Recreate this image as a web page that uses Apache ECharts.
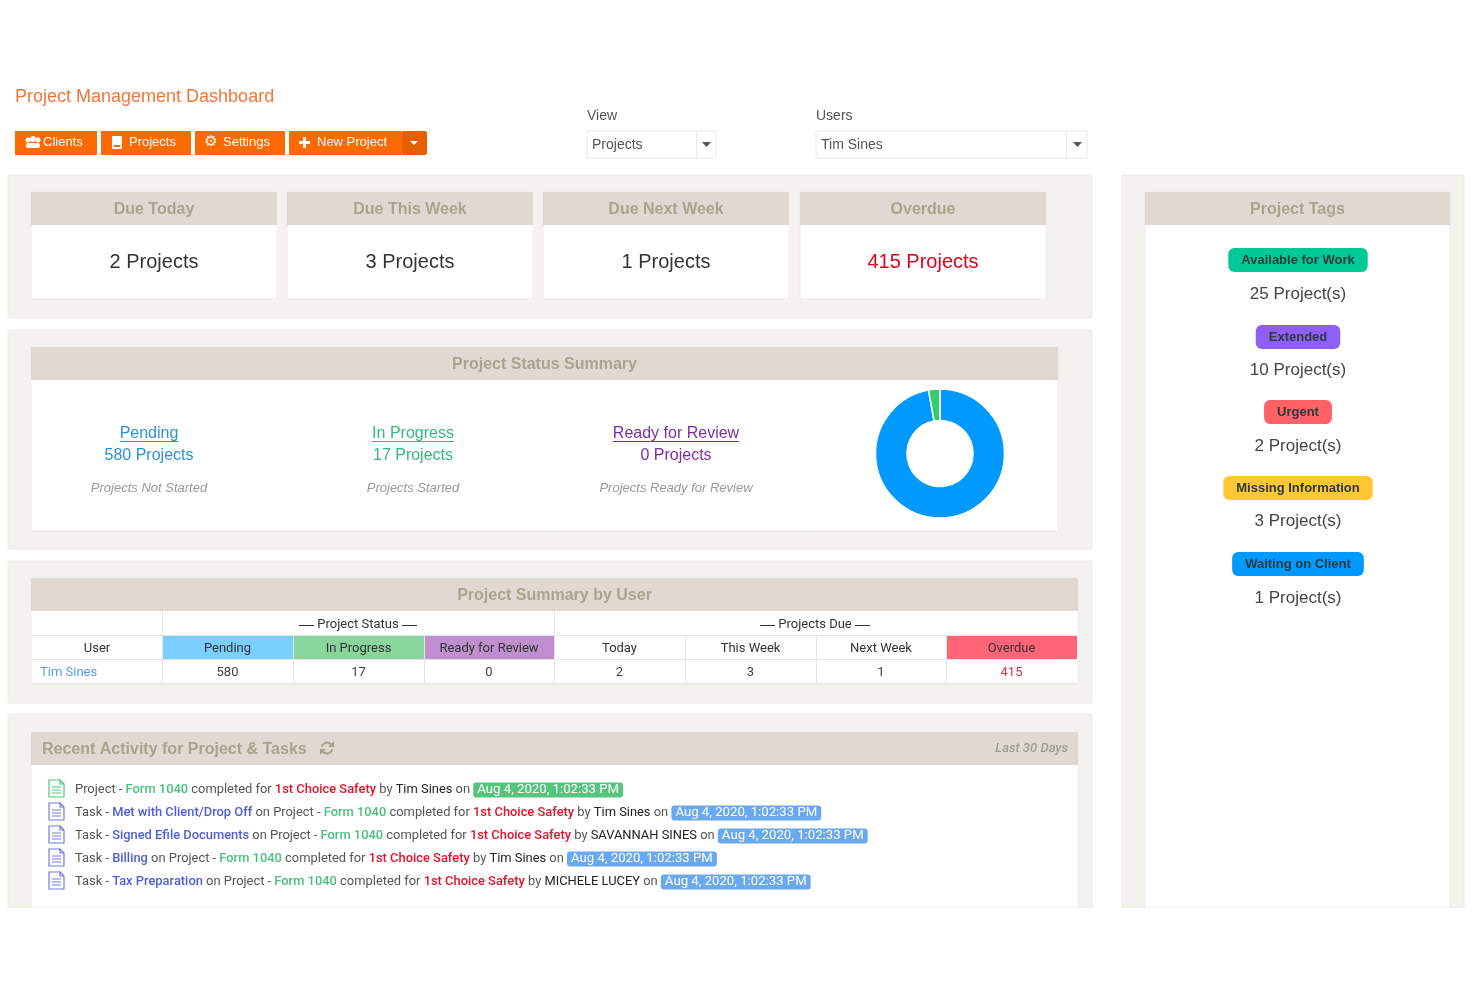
<!DOCTYPE html>
<html>
<head>
<meta charset="utf-8">
<title>Project Management Dashboard</title>
<style>
    html, body { margin: 0; padding: 0; background: #fff; }
    #main { width: 1480px; height: 987px; }
</style>
</head>
<body>
<div id="main"></div>
<script src="https://cdn.jsdelivr.net/npm/echarts@6/dist/echarts.min.js"></script>
<script>
var dueTitles = ["Due Today", "Due This Week", "Due Next Week", "Overdue"];
var dueCounts = [2, 3, 1, 415];

var statusNames = ["Pending", "In Progress", "Ready for Review"];
var statusCounts = [580, 17, 0];
var statusCaptions = ["Projects Not Started", "Projects Started", "Projects Ready for Review"];
var statusLinkColors = ["#2a93d5", "#35b87f", "#7d2ea6"];
var statusSliceColors = ["#0099ff", "#33cc66", "#9933cc"];

var tagNames = ["Available for Work", "Extended", "Urgent", "Missing Information", "Waiting on Client"];
var tagCounts = [25, 10, 2, 3, 1];
var tagColors = ["#00c896", "#8f5ff5", "#ff6166", "#ffc832", "#0099ff"];

var tableUsers = ["Tim Sines"];
var tableHeads = ["User", "Pending", "In Progress", "Ready for Review", "Today", "This Week", "Next Week", "Overdue"];
var tableHeadColors = ["#fff", "#7acfff", "#88d69b", "#c08fcf", "#fff", "#fff", "#fff", "#ff6478"];
var tableValues = [580, 17, 0, 2, 3, 1, 415];

var activityKinds = ["Project", "Task", "Task", "Task", "Task"];
var activityTasks = ["", "Met with Client/Drop Off", "Signed Efile Documents", "Billing", "Tax Preparation"];
var activityProject = "Form 1040";
var activityClient = "1st Choice Safety";
var activityUsers = ["Tim Sines", "Tim Sines", "SAVANNAH SINES", "Tim Sines", "MICHELE LUCEY"];
var activityDate = "Aug 4, 2020, 1:02:33 PM";

var ORANGE = "#ff6a00";
var HEAD_BG = "#dfd9d1";
var HEAD_TEXT = "#a9a48f";
var PANEL_BG = "#f4f2ef";
var PANEL_LINE = "#eeece9";
var ARIAL = '"Liberation Sans", Arial, sans-serif';
var ROBOTO = 'Roboto, sans-serif';

var chart = echarts.init(document.getElementById("main"));
var els = [];

// 画矩形
function box(x, y, w, h, fill, r, stroke) {
    els.push({
        type: "rect",
        shape: {x: x, y: y, width: w, height: h, r: r || 0},
        style: {fill: fill, stroke: stroke || null, lineWidth: stroke ? 1 : 0},
        silent: true
    });
}

// 写文字
function label(str, x, y, size, color, opts) {
    opts = opts || {};
    var style = {
        text: str,
        x: x,
        y: y + 1,
        fill: color,
        align: opts.align || "center",
        verticalAlign: "middle",
        fontFamily: opts.family || ARIAL,
        fontSize: size,
        fontWeight: opts.weight || "normal",
        fontStyle: opts.italic ? "italic" : "normal"
    };
    if (opts.rich) {
        style.rich = opts.rich;
    }
    if (opts.bg) {
        style.backgroundColor = opts.bg;
        style.padding = opts.padding;
        style.borderRadius = opts.radius;
    }
    els.push({type: "text", style: style, silent: true});
}

function poly(points, fill) {
    els.push({type: "polygon", shape: {points: points}, style: {fill: fill}, silent: true});
}

function textWidth(str, font) {
    var ctx = textWidth.ctx || (textWidth.ctx = document.createElement("canvas").getContext("2d"));
    ctx.font = font;
    return ctx.measureText(str).width;
}

// 带标题的白色卡片
function card(x, y, w, h, title, titleAlign) {
    box(x, y, w, h, "#fff", 0, PANEL_LINE);
    box(x, y, w, 33, HEAD_BG);
    if (title) {
        label(title, titleAlign === "left" ? x + 11 : x + w / 2, y + 17, 16, HEAD_TEXT, {
            weight: "bold",
            align: titleAlign || "center"
        });
    }
}

function docIcon(x, y, color) {
    els.push({
        type: "polyline",
        shape: {points: [[x + 11, y], [x, y], [x, y + 17], [x + 15, y + 17], [x + 15, y + 4], [x + 11, y], [x + 11, y + 4], [x + 15, y + 4]]},
        style: {fill: null, stroke: color, lineWidth: 1.2},
        silent: true
    });
    [7, 10, 13].forEach(function (d) {
        box(x + 3, y + d - 0.5, 9, 1, color);
    });
}

//顶部标题和按钮
function drawToolbar() {
    label("Project Management Dashboard", 15, 96, 18, "#f0763c", {align: "left"});

    [[15, 82, "Clients", 43], [101, 90, "Projects", 129], [195, 90, "Settings", 223], [289, 113, "New Project", 317]].forEach(function (b) {
        box(b[0], 131, b[1], 24, ORANGE);
        label(b[2], b[3], 141.5, 13, "#fff", {align: "left"});
    });
    box(402, 131, 25, 24, "#e55f00", 2);
    poly([[410, 141], [418, 141], [414, 145]], "#fff");

    // 按钮图标
    els.push({type: "circle", shape: {cx: 28, cy: 140, r: 2.5}, style: {fill: "#fff"}, silent: true});
    els.push({type: "circle", shape: {cx: 38, cy: 140, r: 2.5}, style: {fill: "#fff"}, silent: true});
    els.push({type: "circle", shape: {cx: 33, cy: 139, r: 3}, style: {fill: "#fff"}, silent: true});
    box(26, 143, 14, 5, "#fff", 2);
    box(112, 136, 10, 13, "#fff", 1);
    box(114, 145, 6, 2, ORANGE);
    label("⚙", 211, 141, 15, "#fff", {family: "DejaVu Sans"});
    box(299, 141, 11, 3, "#fff");
    box(303, 137, 3, 11, "#fff");

    // 下拉框
    label("View", 587, 115, 14, "#555", {align: "left"});
    box(587, 131, 129, 27, "#fff", 0, "#e8e8e8");
    box(696, 131, 1, 27, "#e8e8e8");
    label("Projects", 592, 144, 14, "#555", {align: "left"});
    poly([[702, 142], [711, 142], [706.5, 147]], "#555");

    label("Users", 816, 115, 14, "#555", {align: "left"});
    box(816, 131, 271, 27, "#fff", 0, "#e8e8e8");
    box(1066, 131, 1, 27, "#e8e8e8");
    label("Tim Sines", 821, 144, 14, "#555", {align: "left"});
    poly([[1073, 142], [1082, 142], [1077.5, 147]], "#555");
}

//到期统计
function drawDue() {
    box(8, 175, 1084, 143, PANEL_BG, 0, PANEL_LINE);
    var lefts = [31, 287, 543, 800];
    dueTitles.forEach(function (t, i) {
        card(lefts[i], 192, 246, 107, t);
        label(dueCounts[i] + " Projects", lefts[i] + 123, 261.5, 20, t === "Overdue" ? "#e2001a" : "#333");
    });
}

//状态汇总
function drawStatus() {
    box(8, 330, 1084, 219, PANEL_BG, 0, PANEL_LINE);
    card(31, 347, 1027, 184, "Project Status Summary");
    var centers = [149, 413, 676];
    statusNames.forEach(function (name, i) {
        var c = centers[i];
        var w = textWidth(name, "16px " + ARIAL);
        label(name, c, 433, 16, statusLinkColors[i]);
        box(c - w / 2, 441, w, 1, statusLinkColors[i]);
        label(statusCounts[i] + " Projects", c, 455, 16, statusLinkColors[i]);
        label(statusCaptions[i], c, 487, 13, "#999", {italic: true});
    });
}

//用户汇总表
function drawTable() {
    box(8, 561, 1084, 142, PANEL_BG, 0, PANEL_LINE);
    card(31, 578, 1047, 106, "Project Summary by User");
    var xs = [32, 162, 293, 424, 554, 685, 816, 946, 1077];
    var line = "#e4e4e4";

    tableHeads.forEach(function (h, i) {
        var w = xs[i + 1] - xs[i];
        var c = xs[i] + w / 2;
        box(xs[i], 635, w, 24, tableHeadColors[i]);
        label(h, c, 647.5, 13, "#333", {family: ROBOTO});
        if (i === 0) {
            label(tableUsers[0], 40, 671.5, 13, "#5c9be0", {family: ROBOTO, align: "left"});
        } else {
            label(String(tableValues[i - 1]), c, 671.5, 13, h === "Overdue" ? "#e03040" : "#444", {family: ROBOTO});
        }
    });
    var dash = {dash: {fontFamily: ARIAL, fontSize: 15, fill: "#333"}};
    label("{dash|—} Project Status {dash|—}", 358, 623.5, 13, "#333", {family: ROBOTO, rich: dash});
    label("{dash|—} Projects Due {dash|—}", 815, 623.5, 13, "#333", {family: ROBOTO, rich: dash});

    box(32, 635, 1045, 1, line);
    box(32, 659, 1045, 1, line);
    box(32, 683, 1045, 1, line);
    [162, 554].forEach(function (x) {
        box(x, 611, 1, 72, line);
    });
    [293, 424, 685, 816, 946].forEach(function (x) {
        box(x, 635, 1, 48, line);
    });
}

//最近动态
function drawActivity() {
    box(8, 714, 1084, 194, PANEL_BG, 0, PANEL_LINE);
    card(31, 732, 1047, 176, "Recent Activity for Project & Tasks", "left");
    label("Last 30 Days", 1068, 748, 13, "#a09c8e", {align: "right", italic: true, family: ROBOTO, weight: "500"});

    // 刷新图标
    [[-2.9, -0.6], [0.25, 2.5]].forEach(function (a) {
        els.push({
            type: "arc",
            shape: {cx: 327, cy: 748, r: 5.5, startAngle: a[0], endAngle: a[1]},
            style: {fill: null, stroke: HEAD_TEXT, lineWidth: 2},
            silent: true
        });
    });
    poly([[334, 741], [334, 747], [328, 747]], HEAD_TEXT);
    poly([[320, 755], [320, 749], [326, 749]], HEAD_TEXT);

    var ys = [789, 812, 835, 858, 881];
    activityKinds.forEach(function (kind, i) {
        var first = kind === "Project";
        docIcon(49, ys[i] - 9, first ? "#55c47c" : "#6f7fe0");
        var s = kind + " - ";
        if (!first) {
            s += "{task|" + activityTasks[i] + "} on Project - ";
        }
        s += "{form|" + activityProject + "} completed for {client|" + activityClient + "} by {user|" + activityUsers[i] + "} on {date|" + activityDate + "}";
        var base = {fontFamily: ROBOTO, fontSize: 12.9};
        label(s, 75, ys[i], 12.9, "#555", {
            family: ROBOTO,
            align: "left",
            rich: {
                task: Object.assign({fill: "#4d5fd8", fontWeight: 500}, base),
                form: Object.assign({fill: "#4cc07e", fontWeight: 500}, base),
                client: Object.assign({fill: "#e8112d", fontWeight: 500}, base),
                user: Object.assign({fill: "#222"}, base),
                date: {
                    fontFamily: ROBOTO,
                    fontSize: 13.2,
                    fill: "#fff",
                    backgroundColor: first ? "#55c47c" : "#6aa8f0",
                    padding: [1, 4, 1, 4],
                    borderRadius: 3
                }
            }
        });
    });
}

//项目标签
function drawTags() {
    box(1122, 175, 342, 733, PANEL_BG, 0, PANEL_LINE);
    card(1145, 192, 305, 716, "Project Tags");
    var pillYs = [259, 336, 411, 487, 563];
    var countYs = [293.5, 369.5, 445.5, 520.5, 597.5];
    tagNames.forEach(function (name, i) {
        label(name, 1298, pillYs[i], 13, "#2b3a3a", {
            weight: "bold",
            bg: tagColors[i],
            padding: [6, 13, 5, 13],
            radius: 6
        });
        label(tagCounts[i] + " Project(s)", 1298, countYs[i], 17, "#444");
    });
}

drawToolbar();
drawDue();
drawStatus();
drawTable();
drawActivity();
drawTags();
// 底部截断
box(0, 908, 1480, 79, "#fff");

var option = {
    animation: false,
    backgroundColor: "#fff",
    graphic: {elements: els},
    series: [{
        type: "pie",
        silent: true,
        center: [940, 453.5],
        radius: [33, 64.5],
        startAngle: 90,
        label: {show: false},
        labelLine: {show: false},
        itemStyle: {borderColor: "#fff", borderWidth: 1.5},
        data: statusNames.map(function (name, i) {
            return {name: name, value: statusCounts[i], itemStyle: {color: statusSliceColors[i]}};
        })
    }]
};
chart.setOption(option);
</script>
</body>
</html>
